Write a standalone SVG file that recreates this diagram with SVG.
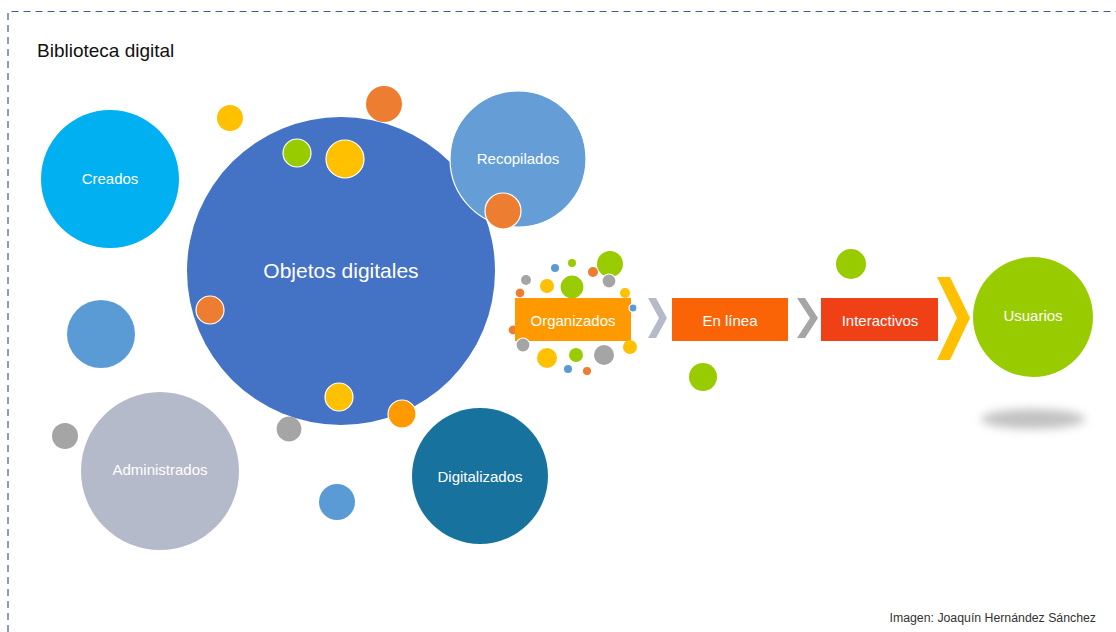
<svg xmlns="http://www.w3.org/2000/svg" width="1116" height="632" viewBox="0 0 1116 632">
<style>
text{font-family:"Liberation Sans","DejaVu Sans",sans-serif;}
.lbl{fill:#ffffff;font-size:15px;text-anchor:middle;dominant-baseline:central;}
.big{font-size:21px;}
.ws{stroke:#ffffff;stroke-width:1.2;}
.yel{fill:#FFC000;}
.org{fill:#ED7D31;}
.or2{fill:#FF9900;}
.grn{fill:#99CC00;}
.gry{fill:#A5A5A5;}
.blu{fill:#5B9BD5;}
</style>
<defs>
<filter id="blur" x="-50%" y="-100%" width="200%" height="300%"><feGaussianBlur stdDeviation="5"/></filter>
</defs>
<rect width="1116" height="632" fill="#ffffff"/>
<path d="M8,632 V11.5 H1116" fill="none" stroke="#3F5C94" stroke-width="1.2" stroke-dasharray="7,5"/>
<text x="37" y="57" font-size="19" fill="#111111">Biblioteca digital</text>

<g id="decor">
<circle cx="230" cy="118" r="13" class="yel"/>
<circle cx="384" cy="104" r="18" class="org"/>
<circle cx="101" cy="334" r="34" class="blu"/>
<circle cx="65" cy="436" r="13" class="gry"/>
<circle cx="289" cy="429" r="13" class="gry ws"/>
<circle cx="337" cy="502" r="18" class="blu"/>
<circle cx="851" cy="264" r="15" class="grn"/>
<circle cx="703" cy="377" r="14" class="grn"/>
</g>

<g id="creados">
<circle cx="110" cy="179" r="69" fill="#00B0F0"/>
<text x="110" y="178" class="lbl">Creados</text>
</g>

<g id="objetos">
<circle cx="341" cy="271" r="154" fill="#4472C4"/>
<text x="341" y="270" class="lbl big">Objetos digitales</text>
<circle cx="297" cy="153" r="14" class="grn ws"/>
<circle cx="345" cy="159" r="19" class="yel ws"/>
<circle cx="210" cy="310" r="14" class="org ws"/>
<circle cx="339" cy="397" r="14" class="yel ws"/>
<circle cx="402" cy="414" r="14" class="or2 ws"/>
</g>

<g id="recopilados">
<circle cx="518" cy="159" r="68" fill="#659ED6" class="ws"/>
<text x="518" y="158" class="lbl">Recopilados</text>
<circle cx="503" cy="211" r="18" class="org ws"/>
</g>

<g id="administrados">
<circle cx="160" cy="471" r="79" fill="#B5BACA"/>
<text x="160" y="469" class="lbl">Administrados</text>
</g>

<g id="digitalizados">
<circle cx="480" cy="476" r="68" fill="#17729E"/>
<text x="480" y="476" class="lbl">Digitalizados</text>
</g>

<g id="organizados">
<circle cx="610" cy="264" r="13" class="grn"/>
<circle cx="572" cy="287" r="12" class="grn ws"/>
<circle cx="572" cy="263" r="4" class="grn"/>
<circle cx="555" cy="268" r="4" class="blu"/>
<circle cx="593" cy="272" r="5" class="org"/>
<circle cx="609" cy="281" r="7" class="gry ws"/>
<circle cx="526" cy="280" r="5" class="gry"/>
<circle cx="547" cy="286" r="7" class="yel"/>
<circle cx="520" cy="293" r="5" class="org ws"/>
<circle cx="625" cy="293" r="5" class="yel"/>
<circle cx="513" cy="330" r="5" class="org ws"/>
<rect x="515" y="298" width="116" height="43" class="or2"/>
<circle cx="633" cy="308" r="4" class="blu ws"/>
<circle cx="523" cy="345" r="7" class="gry ws"/>
<circle cx="630" cy="347" r="7" class="yel"/>
<circle cx="547" cy="358" r="10" class="yel"/>
<circle cx="576" cy="355" r="7" class="grn"/>
<circle cx="604" cy="355" r="10" class="gry"/>
<circle cx="568" cy="369" r="4" class="blu"/>
<circle cx="587" cy="371" r="4" class="org"/>
<text x="573" y="320" class="lbl">Organizados</text>
</g>

<g id="enlinea">
<rect x="672" y="298" width="116" height="43" fill="#FA6406"/>
<text x="730" y="320" class="lbl">En línea</text>
</g>

<g id="interactivos">
<rect x="821" y="298" width="117" height="43" fill="#F04015"/>
<text x="880" y="320" class="lbl">Interactivos</text>
</g>

<g id="usuarios">
<ellipse cx="1033" cy="419" rx="52" ry="10" fill="#9a9a9a" opacity="0.6" filter="url(#blur)"/>
<circle cx="1033" cy="317" r="60" class="grn"/>
<text x="1033" y="315" class="lbl">Usuarios</text>
</g>

<g id="connectors">
<polygon points="648,298 656,298 667,318 656,338 648,338 659,318" fill="#B5BACA"/>
<polygon points="797,298 805,298 818,318 805,338 797,338 810,318" fill="#A5A5A5"/>
<polygon points="937,277 950,277 970,318 950,360 937,360 957,318" fill="#FFC000"/>
</g>

<text x="1096" y="622" font-size="12.3" fill="#333333" text-anchor="end">Imagen: Joaquín Hernández Sánchez</text>
</svg>
